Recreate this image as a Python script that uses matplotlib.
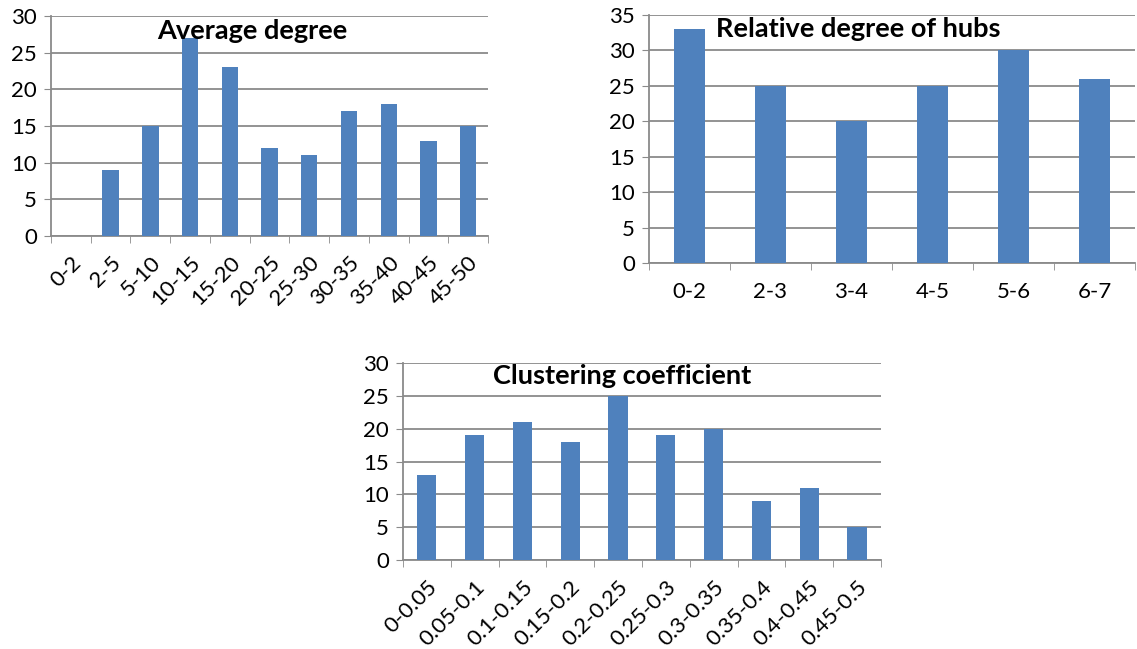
import matplotlib
matplotlib.use('Agg')
import matplotlib.pyplot as plt
import numpy as np

# Histogram data for the three network measures
avg_degree_bins = ['0-2', '2-5', '5-10', '10-15', '15-20', '20-25', '25-30',
                   '30-35', '35-40', '40-45', '45-50']
avg_degree_counts = [0, 9, 15, 27, 23, 12, 11, 17, 18, 13, 15]

hub_bins = ['0-2', '2-3', '3-4', '4-5', '5-6', '6-7']
hub_counts = [33, 25, 20, 25, 30, 26]

clust_bins = ['0-0.05', '0.05-0.1', '0.1-0.15', '0.15-0.2', '0.2-0.25',
              '0.25-0.3', '0.3-0.35', '0.35-0.4', '0.4-0.45', '0.45-0.5']
clust_counts = [13, 19, 21, 18, 25, 19, 20, 9, 11, 5]

plt.rcParams['font.family'] = ['Lato', 'DejaVu Sans']

BAR_COLOR = '#4F81BD'
GRID_COLOR = '#8a8a8a'
TICK_SIZE = 16


def bar_panel(fig, rect, labels, counts, title, ymax, title_xy, width, rotate):
    ax = fig.add_axes(rect)
    x = np.arange(len(labels))
    ax.bar(x, counts, width=width, color=BAR_COLOR, zorder=3)
    ax.set_xlim(-0.5, len(labels) - 0.5)
    ax.set_ylim(0, ymax)
    ax.set_yticks(np.arange(0, ymax + 1, 5))
    ax.yaxis.grid(True, color=GRID_COLOR, linewidth=1.3, zorder=0)
    for s in ['top', 'right']:
        ax.spines[s].set_visible(False)
    for s in ['left', 'bottom']:
        ax.spines[s].set_color(GRID_COLOR)
        ax.spines[s].set_linewidth(1.3)
    ax.tick_params(axis='y', length=5, color=GRID_COLOR,
                   labelsize=TICK_SIZE, pad=5)
    # category labels at bar centres, tick marks at the bin boundaries
    ax.set_xticks(x)
    ax.set_xticks(np.arange(len(labels) + 1) - 0.5, minor=True)
    ax.tick_params(axis='x', which='major', length=0, labelsize=TICK_SIZE)
    ax.tick_params(axis='x', which='minor', length=5, color=GRID_COLOR)
    if rotate:
        ax.set_xticklabels(labels, rotation=45, ha='right',
                           rotation_mode='anchor')
        ax.tick_params(axis='x', which='major', pad=12)
    else:
        ax.set_xticklabels(labels)
        ax.tick_params(axis='x', which='major', pad=14)
    ax.text(title_xy[0], title_xy[1], title, transform=ax.transAxes,
            ha='center', va='center', fontsize=19.5, fontweight='bold',
            zorder=5)
    return ax


fig = plt.figure(figsize=(11.37, 6.49), dpi=100)

bar_panel(fig, [0.0449, 0.6364, 0.3843, 0.339], avg_degree_bins,
          avg_degree_counts, 'Average degree', 30, (0.46, 0.93), 0.41, True)
bar_panel(fig, [0.5708, 0.5948, 0.4274, 0.3821], hub_bins, hub_counts,
          'Relative degree of hubs', 35, (0.43, 0.945), 0.38, False)
bar_panel(fig, [0.3544, 0.1371, 0.4204, 0.3035], clust_bins, clust_counts,
          'Clustering coefficient', 30, (0.458, 0.935), 0.4, True)

fig.savefig('out.png', dpi=100)
